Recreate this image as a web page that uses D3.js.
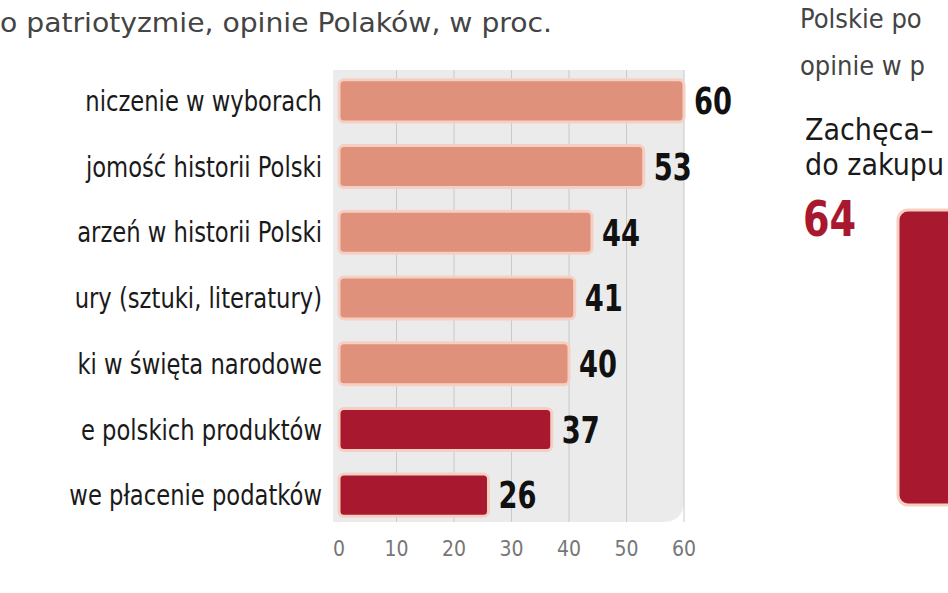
<!DOCTYPE html>
<html><head><meta charset="utf-8">
<script src="https://cdn.jsdelivr.net/npm/d3@7"></script>
<style>body{margin:0;background:#fff}svg{display:block}text{font-stretch:condensed}</style>
</head><body>
<script>
// visible fragments of the labels (the reference is cropped at both sides)
const categories = [
  "niczenie w wyborach",
  "jomość historii Polski",
  "arzeń w historii Polski",
  "ury (sztuki, literatury)",
  "ki w święta narodowe",
  "e polskich produktów",
  "we płacenie podatków"
];
const values = [60, 53, 44, 41, 40, 37, 26];
const highlight = [false, false, false, false, false, true, true];
const ticks = [0, 10, 20, 30, 40, 50, 60];
const sideValue = 64;

const W = 948, H = 593;
const font = "'DejaVu Sans Condensed','DejaVu Sans',Roboto,sans-serif";
const svg = d3.select("body").append("svg").attr("width", W).attr("height", H);

const x = d3.scaleLinear().domain([0, 60]).range([339, 684]);
const y = d3.scaleBand().domain(categories).range([68, 528]).paddingInner(0.36).paddingOuter(0.18);
const bottom = y.range()[1] - 6;

svg.append("path")
  .attr("d", `M${x(0)-6},70 H${x(60)} V${bottom-22} Q${x(60)},${bottom} ${x(60)-22},${bottom} H${x(0)-6} Z`)
  .attr("fill", "#ebebeb");

svg.append("g").selectAll("line").data(ticks.slice(1)).join("line")
  .attr("x1", d => x(d)).attr("x2", d => x(d))
  .attr("y1", 70).attr("y2", bottom)
  .attr("stroke", "#c9c9c9").attr("stroke-width", 1);

svg.append("text").attr("x", 0).attr("y", 32)
  .attr("font-family", font).attr("font-size", 27).attr("fill", "#444")
  .attr("textLength", 552).attr("lengthAdjust", "spacingAndGlyphs")
  .text("o patriotyzmie, opinie Polaków, w proc.");

const bars = svg.append("g").selectAll("g").data(categories).join("g");
bars.append("rect")
  .attr("x", x(0)).attr("y", d => y(d))
  .attr("width", (d, i) => x(values[i]) - x(0)).attr("height", y.bandwidth())
  .attr("rx", 5)
  .attr("fill", (d, i) => highlight[i] ? "#a8182e" : "#df917b")
  .attr("stroke", "#f6cfc3").attr("stroke-width", 3);

bars.append("text")
  .attr("x", (d, i) => x(values[i]) + 10).attr("y", d => y(d) + y.bandwidth() / 2)
  .attr("dy", "0.36em")
  .attr("font-family", font).attr("font-weight", "bold").attr("font-size", 37).attr("fill", "#111")
  .attr("transform", (d, i) => `translate(${x(values[i]) + 10},0) scale(0.82,1) translate(${-(x(values[i]) + 10)},0)`)
  .text((d, i) => values[i]);

bars.append("text")
  .attr("x", 322).attr("y", d => y(d) + y.bandwidth() / 2)
  .attr("dy", "0.36em").attr("text-anchor", "end")
  .attr("font-family", font).attr("font-size", 28).attr("fill", "#1a1a1a")
  .attr("transform", "translate(322,0) scale(0.9,1) translate(-322,0)")
  .text(d => d);

svg.append("g").selectAll("text").data(ticks).join("text")
  .attr("x", d => x(d)).attr("y", 556).attr("text-anchor", "middle")
  .attr("font-family", font).attr("font-size", 21).attr("fill", "#777")
  .text(d => d);

svg.append("text").attr("x", 800).attr("y", 28)
  .attr("font-family", font).attr("font-size", 27).attr("fill", "#444").text("Polskie po");
svg.append("text").attr("x", 800).attr("y", 75)
  .attr("font-family", font).attr("font-size", 27).attr("fill", "#444").text("opinie w p");
svg.append("text").attr("x", 805).attr("y", 140)
  .attr("font-family", font).attr("font-size", 30).attr("fill", "#1a1a1a").text("Zachęca–");
svg.append("text").attr("x", 805).attr("y", 175)
  .attr("font-family", font).attr("font-size", 30).attr("fill", "#1a1a1a").text("do zakupu");
svg.append("text").attr("x", 803).attr("y", 236)
  .attr("font-family", font).attr("font-weight", "bold").attr("font-size", 50).attr("fill", "#a8182e")
  .attr("transform", "translate(803,0) scale(0.85,1) translate(-803,0)")
  .text(sideValue);
const yS = d3.scaleLinear().domain([0, 64]).range([505, 210]);
svg.append("rect").attr("x", 898).attr("y", yS(sideValue)).attr("width", 80)
  .attr("height", yS(0) - yS(sideValue)).attr("rx", 10)
  .attr("fill", "#a8182e").attr("stroke", "#f6cfc3").attr("stroke-width", 3);
</script>
</body></html>
